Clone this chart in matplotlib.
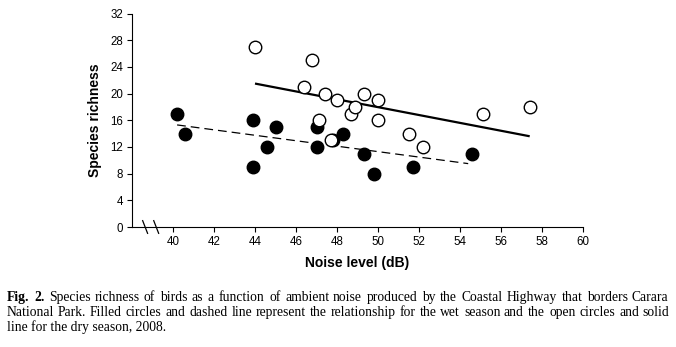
import matplotlib
matplotlib.use("Agg")
import matplotlib.pyplot as plt
import numpy as np

# ---------------- data ----------------
wet_noise = [40.2, 40.6, 43.9, 43.9, 44.6, 45.0, 47.0, 47.0, 47.8, 48.3, 49.3, 49.8, 51.7, 54.6]
wet_rich  = [17, 14, 16, 9, 12, 15, 15, 12, 13, 14, 11, 8, 9, 11]

dry_noise = [44.0, 46.8, 46.4, 47.4, 47.1, 47.7, 48.0, 48.7, 48.9, 49.3, 50.0, 50.0, 51.5, 52.2, 55.1, 57.4]
dry_rich  = [27, 25, 21, 20, 16, 13, 19, 17, 18, 20, 19, 16, 14, 12, 17, 18]

# regression line end points
wet_fit_x = [40.2, 54.4]
wet_fit_y = [15.3, 9.5]
dry_fit_x = [44.0, 57.4]
dry_fit_y = [21.5, 13.6]

x_ticks = [40, 42, 44, 46, 48, 50, 52, 54, 56, 58, 60]
y_ticks = [0, 4, 8, 12, 16, 20, 24, 28, 32]
break_x = [38.64, 39.18]

caption_lines = [
    "Fig. 2. Species richness of birds as a function of ambient noise produced by the Coastal Highway that borders Carara",
    "National Park.  Filled circles and dashed line represent the relationship for the wet season and the open circles and solid",
    "line for the dry season, 2008.",
]

# ---------------- figure ----------------
W, H = 676, 347
fig = plt.figure(figsize=(W / 100, H / 100), dpi=100)
fig.patch.set_facecolor("white")
ax = fig.add_axes([132 / W, 1 - 227 / H, (583 - 132) / W, (227 - 13.5) / H])

sans = "Liberation Sans"
serif = "Liberation Serif"

ax.plot(dry_fit_x, dry_fit_y, color="black", lw=1.6, solid_capstyle="butt", zorder=2)
ax.plot(wet_fit_x, wet_fit_y, color="black", lw=0.9, dashes=(7, 4), zorder=2)
ax.plot(wet_noise, wet_rich, "o", ms=9, mfc="black", mec="black", mew=1.0, zorder=3)
ax.plot(dry_noise, dry_rich, "o", ms=9, mfc="white", mec="black", mew=1.0, zorder=4)

ax.set_xlim(38, 60)
ax.set_ylim(0, 32)
ax.set_xticks(x_ticks)
ax.set_yticks(y_ticks)
for s in ["top", "right"]:
    ax.spines[s].set_visible(False)
for s in ["left", "bottom"]:
    ax.spines[s].set_linewidth(0.8)
ax.tick_params(direction="out", length=3.5, width=0.8, labelsize=8.3, pad=3)
for lab in ax.get_xticklabels() + ax.get_yticklabels():
    lab.set_fontfamily(sans)

ax.set_xlabel("Noise level (dB)", fontsize=10, fontweight="bold", family=sans, labelpad=6)
ax.set_ylabel("Species richness", fontsize=10, fontweight="bold", family=sans, labelpad=6)

# axis break marks
for bx in break_x:
    ax.plot([bx - 0.12, bx + 0.12], [0.95, -0.95], color="black", lw=0.9, clip_on=False)

# ---------------- caption (justified) ----------------
renderer = fig.canvas.get_renderer()
fs = 9.8
x0, x1 = 7, 669
line_y = [301, 316, 331]  # baselines in px from top


def place_line(text, ybase):
    words = [w for w in text.split(" ") if w != ""]
    objs, widths = [], []
    for i, w in enumerate(words):
        bold = text.startswith("Fig.") and i < 2
        t = fig.text(0, 1 - ybase / H, w, fontsize=fs, family=serif,
                     fontweight="bold" if bold else "normal",
                     va="baseline", ha="left")
        objs.append(t)
        widths.append(t.get_window_extent(renderer).width)
    gap = (x1 - x0 - sum(widths)) / (len(words) - 1)
    x = x0
    for t, w in zip(objs, widths):
        t.set_x(round(x) / W)
        x += w + gap


place_line(caption_lines[0], line_y[0])
place_line(caption_lines[1], line_y[1])
fig.text(x0 / W, 1 - line_y[2] / H, caption_lines[2], fontsize=fs, family=serif,
         va="baseline", ha="left")

fig.savefig("out.png", dpi=100, facecolor="white")
